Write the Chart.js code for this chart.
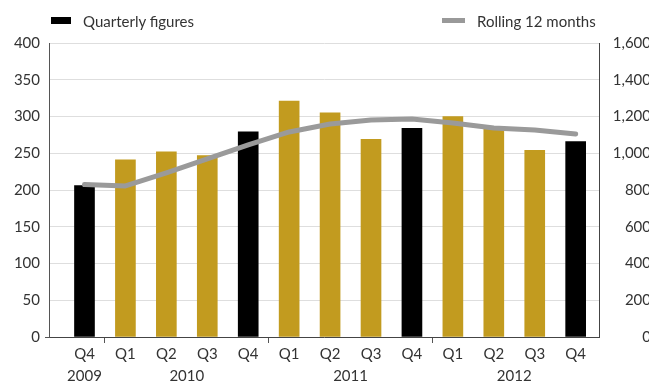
<!DOCTYPE html>
<html>
<head>
<meta charset="utf-8">
<script src="https://cdn.jsdelivr.net/npm/chart.js@4.4.0/dist/chart.umd.min.js"></script>
<style>
    html, body { margin: 0; padding: 0; background: #fff; overflow: hidden; }
    #wrap { position: relative; width: 651px; height: 383px; }
    .legend { position: absolute; top: 10px; font: 15px Lato, sans-serif; color: #333; line-height: 22px; }
    .legend span { position: absolute; }
</style>
</head>
<body>
<div id="wrap">
    <canvas id="quarterChart"></canvas>
    <div class="legend" style="left:51px"><span style="left:0;top:7px;width:20px;height:7px;background:#000"></span><span style="left:32px;top:0;white-space:nowrap">Quarterly figures</span></div>
    <div class="legend" style="left:442px"><span style="left:0;top:8px;width:23px;height:5px;background:#999"></span><span style="left:35px;top:0;white-space:nowrap">Rolling 12 months</span></div>
</div>
<script>
// Quarters Q4 2009 .. Q4 2012
const quarters = ['Q4', 'Q1', 'Q2', 'Q3', 'Q4', 'Q1', 'Q2', 'Q3', 'Q4', 'Q1', 'Q2', 'Q3', 'Q4'];
const years = ['2009', '2010', '2011', '2012'];
const yearPos = [0, 2.5, 6.5, 10.5];   // centre of each year group, in quarter index units
const yearBreaks = [0.5, 4.5, 8.5];

// Quarterly figures (left axis) and rolling 12 months (right axis)
const quarterly = [206, 241, 252, 247, 279, 321, 305, 269, 284, 300, 286, 254, 266];
const rolling12 = [830, 822, 893, 969, 1045, 1116, 1159, 1181, 1186, 1165, 1137, 1127, 1105];

const gold = '#c29b1f';
const txt = '#333';
const font = { family: 'Lato', size: 15 };
const clear = 'rgba(0,0,0,0)';

const barColors = quarters.map(q => q === 'Q4' ? '#000' : gold);

const xMin = -0.867, xMax = 12.57;

const ctx = document.getElementById('quarterChart').getContext('2d');
const chart = new Chart(ctx, {
    data: {
        datasets: [{
            type: 'line',
            label: 'Rolling 12 months',
            data: rolling12.map((v, i) => ({ x: i, y: v })),
            xAxisID: 'x',
            yAxisID: 'y1',
            borderColor: '#9a9a9a',
            borderWidth: 5,
            borderCapStyle: 'round',
            borderJoinStyle: 'round',
            pointRadius: 0,
            tension: 0,
            order: 0
        }, {
            type: 'bar',
            label: 'Quarterly figures',
            data: quarterly.map((v, i) => ({ x: i, y: v })),
            xAxisID: 'x',
            yAxisID: 'y',
            backgroundColor: barColors,
            barThickness: 20,
            order: 1
        }]
    },
    options: {
        responsive: true,
        maintainAspectRatio: false,
        animation: false,
        layout: { padding: { top: 43, left: 0, right: 0, bottom: 0 } },
        plugins: {
            legend: { display: false },
            tooltip: { enabled: false }
        },
        scales: {
            x: {
                type: 'linear',
                position: 'bottom',
                weight: 0,
                offset: false,
                min: xMin,
                max: xMax,
                afterBuildTicks: scale => {
                    const t = quarters.map((q, i) => i).concat(yearBreaks).sort((a, b) => a - b);
                    scale.ticks = t.map(v => ({ value: v }));
                },
                afterFit: scale => { scale.height = 26; },
                grid: {
                    offset: false,
                    drawOnChartArea: false,
                    tickLength: 6,
                    tickColor: c => (c.tick && !Number.isInteger(c.tick.value)) ? '#555' : clear
                },
                border: { color: '#444' },
                ticks: {
                    autoSkip: false,
                    maxRotation: 0,
                    padding: 2,
                    color: txt,
                    font: font,
                    callback: v => Number.isInteger(v) ? quarters[v] : ''
                }
            },
            xYear: {
                type: 'linear',
                position: 'bottom',
                weight: 1,
                offset: false,
                min: xMin,
                max: xMax,
                afterBuildTicks: scale => {
                    scale.ticks = yearPos.map(v => ({ value: v }));
                },
                afterFit: scale => { scale.height = 20; },
                grid: { display: false, offset: false },
                border: { display: false },
                ticks: {
                    autoSkip: false,
                    maxRotation: 0,
                    padding: -4,
                    color: txt,
                    font: font,
                    callback: v => years[yearPos.indexOf(v)]
                }
            },
            y: {
                position: 'left',
                min: 0,
                max: 400,
                afterFit: scale => { scale.width = 49; },
                grid: {
                    color: '#dedede',
                    tickLength: 4,
                    tickColor: c => (c.tick && c.tick.value === 0) ? '#555' : clear
                },
                border: { color: '#555' },
                ticks: { stepSize: 50, padding: 5, color: txt, font: font }
            },
            y1: {
                position: 'right',
                min: 0,
                max: 1600,
                afterFit: scale => { scale.width = 52; },
                grid: {
                    drawOnChartArea: false,
                    tickLength: 8,
                    tickColor: clear
                },
                border: { color: '#444' },
                ticks: {
                    stepSize: 200,
                    padding: 0,
                    crossAlign: 'far',
                    color: txt,
                    font: font,
                    callback: v => v.toLocaleString('en-US')
                }
            }
        }
    }
});
</script>
</body>
</html>
